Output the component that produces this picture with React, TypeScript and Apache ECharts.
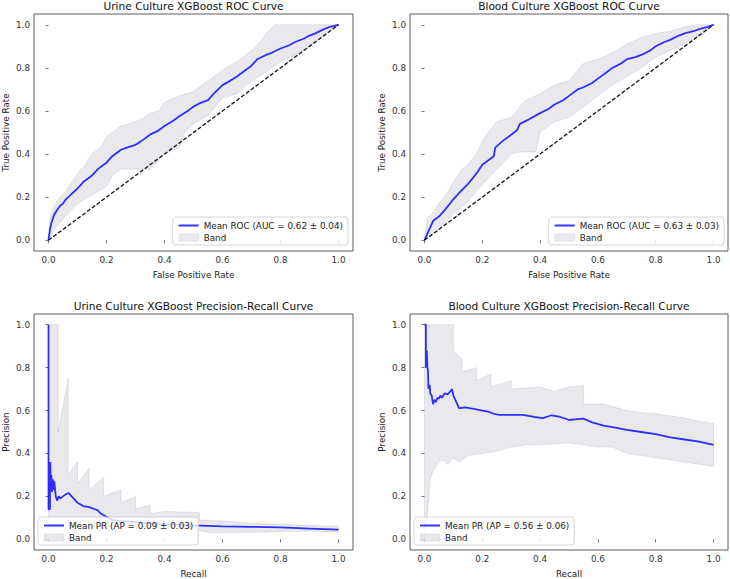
import React, { useEffect, useRef } from "react";
import * as echarts from "echarts";

// ---------- data ----------
const tickValues = [0, 0.2, 0.4, 0.6, 0.8, 1.0];
const titles = [
  "Urine Culture XGBoost ROC Curve",
  "Blood Culture XGBoost ROC Curve",
  "Urine Culture XGBoost Precision-Recall Curve",
  "Blood Culture XGBoost Precision-Recall Curve",
];
const meanNames = [
  "Mean ROC (AUC = 0.62 ± 0.04)",
  "Mean ROC (AUC = 0.63 ± 0.03)",
  "Mean PR (AP = 0.09 ± 0.03)",
  "Mean PR (AP = 0.56 ± 0.06)",
];
const xNames = ["False Positive Rate", "False Positive Rate", "Recall", "Recall"];
const yNames = ["True Positive Rate", "True Positive Rate", "Precision", "Precision"];
const chanceLine = [[0, 0], [1, 1]];

const urineRocMean = [
  [0, 0], [0.005, 0.05], [0.01, 0.08], [0.02, 0.12], [0.03, 0.14], [0.04, 0.16], [0.05, 0.17],
  [0.06, 0.19], [0.08, 0.215], [0.1, 0.24], [0.12, 0.27], [0.15, 0.3], [0.17, 0.33], [0.19, 0.35],
  [0.2, 0.36], [0.22, 0.39], [0.25, 0.42], [0.27, 0.43], [0.3, 0.443], [0.32, 0.46], [0.35, 0.49],
  [0.38, 0.51], [0.4, 0.53], [0.43, 0.555], [0.45, 0.574], [0.48, 0.6], [0.5, 0.62], [0.52, 0.635],
  [0.55, 0.65], [0.57, 0.68], [0.6, 0.72], [0.62, 0.735], [0.65, 0.76], [0.68, 0.79], [0.7, 0.81],
  [0.72, 0.84], [0.75, 0.86], [0.77, 0.87], [0.8, 0.89], [0.83, 0.905], [0.85, 0.92], [0.88, 0.935],
  [0.9, 0.95], [0.92, 0.96], [0.95, 0.98], [0.97, 0.99], [1.0, 1.0],
];
const urineRocUpper = [
  [0, 0], [0.005, 0.1], [0.02, 0.16], [0.04, 0.2], [0.06, 0.23], [0.08, 0.27], [0.1, 0.31],
  [0.12, 0.34], [0.15, 0.4], [0.18, 0.43], [0.2, 0.48], [0.23, 0.51], [0.25, 0.53], [0.3, 0.55],
  [0.33, 0.57], [0.35, 0.59], [0.38, 0.6], [0.4, 0.64], [0.45, 0.67], [0.5, 0.69], [0.53, 0.72],
  [0.55, 0.74], [0.58, 0.77], [0.6, 0.79], [0.65, 0.83], [0.68, 0.86], [0.7, 0.88], [0.73, 0.92],
  [0.75, 0.96], [0.78, 1.0], [1.0, 1.0],
];
const urineRocLower = [
  [0, 0], [0.02, 0.05], [0.05, 0.1], [0.1, 0.17], [0.15, 0.21], [0.2, 0.25], [0.22, 0.3],
  [0.25, 0.33], [0.3, 0.33], [0.35, 0.33], [0.4, 0.4], [0.45, 0.43], [0.47, 0.5], [0.5, 0.54],
  [0.55, 0.58], [0.6, 0.66], [0.65, 0.68], [0.7, 0.74], [0.75, 0.78], [0.8, 0.83], [0.85, 0.86],
  [0.9, 0.9], [0.95, 0.95], [1.0, 1.0],
];

const bloodRocMean = [
  [0, 0], [0.01, 0.03], [0.02, 0.06], [0.03, 0.09], [0.05, 0.11], [0.07, 0.14], [0.1, 0.19],
  [0.12, 0.22], [0.15, 0.26], [0.18, 0.31], [0.2, 0.35], [0.22, 0.37], [0.24, 0.39], [0.245, 0.43],
  [0.27, 0.46], [0.3, 0.49], [0.32, 0.51], [0.33, 0.54], [0.36, 0.56], [0.4, 0.59], [0.43, 0.61],
  [0.45, 0.63], [0.48, 0.65], [0.5, 0.67], [0.53, 0.7], [0.55, 0.71], [0.58, 0.73], [0.6, 0.75],
  [0.63, 0.78], [0.65, 0.8], [0.68, 0.82], [0.7, 0.84], [0.73, 0.85], [0.75, 0.86], [0.78, 0.88],
  [0.8, 0.9], [0.83, 0.92], [0.85, 0.93], [0.88, 0.95], [0.9, 0.96], [0.93, 0.97], [0.95, 0.98],
  [0.98, 0.99], [1.0, 1.0],
];
const bloodRocUpper = [
  [0, 0], [0.01, 0.1], [0.03, 0.13], [0.05, 0.17], [0.08, 0.22], [0.1, 0.27], [0.13, 0.33],
  [0.15, 0.35], [0.18, 0.4], [0.2, 0.46], [0.22, 0.5], [0.25, 0.55], [0.3, 0.57], [0.33, 0.62],
  [0.35, 0.65], [0.4, 0.68], [0.45, 0.72], [0.5, 0.74], [0.55, 0.82], [0.6, 0.84], [0.65, 0.87],
  [0.7, 0.91], [0.75, 0.94], [0.8, 0.96], [0.85, 0.97], [0.9, 0.99], [0.95, 1.0], [1.0, 1.0],
];
const bloodRocLower = [
  [0, 0], [0.03, 0.03], [0.05, 0.05], [0.1, 0.12], [0.15, 0.18], [0.2, 0.26], [0.25, 0.33],
  [0.3, 0.4], [0.33, 0.41], [0.385, 0.41], [0.4, 0.5], [0.45, 0.55], [0.5, 0.57], [0.55, 0.62],
  [0.6, 0.67], [0.65, 0.72], [0.7, 0.76], [0.75, 0.8], [0.8, 0.85], [0.85, 0.88], [0.9, 0.91],
  [0.95, 0.95], [1.0, 1.0],
];

const urinePrMean = [
  [0, 1.0], [0, 0.14], [0.005, 0.14], [0.006, 0.36], [0.008, 0.25], [0.01, 0.3], [0.012, 0.22],
  [0.015, 0.28], [0.018, 0.23], [0.02, 0.27], [0.025, 0.2], [0.03, 0.18], [0.035, 0.2],
  [0.04, 0.19], [0.05, 0.2], [0.06, 0.21], [0.07, 0.215], [0.08, 0.2], [0.09, 0.185], [0.1, 0.17],
  [0.12, 0.155], [0.14, 0.15], [0.15, 0.145], [0.16, 0.14], [0.17, 0.135], [0.18, 0.12],
  [0.2, 0.105], [0.22, 0.09], [0.25, 0.085], [0.3, 0.08], [0.35, 0.075], [0.4, 0.07],
  [0.45, 0.068], [0.5, 0.065], [0.6, 0.06], [0.7, 0.058], [0.8, 0.055], [0.9, 0.05], [1.0, 0.045],
];
const urinePrUpper = [
  [0, 1.0], [0.033, 1.0], [0.033, 0.5], [0.068, 0.75], [0.068, 0.3], [0.1, 0.36], [0.1, 0.26],
  [0.14, 0.33], [0.14, 0.23], [0.19, 0.29], [0.19, 0.2], [0.25, 0.23], [0.25, 0.17], [0.3, 0.2],
  [0.3, 0.14], [0.35, 0.16], [0.35, 0.12], [0.4, 0.13], [0.52, 0.124], [0.52, 0.09],
  [0.6, 0.085], [0.7, 0.075], [0.8, 0.07], [0.9, 0.065], [1.0, 0.06],
];
const urinePrLower = [
  [0, 0.05], [0.1, 0.06], [0.2, 0.06], [0.3, 0.05], [0.4, 0.05], [0.5, 0.045], [0.56, 0.03],
  [0.7, 0.033], [0.8, 0.035], [0.9, 0.038], [1.0, 0.034],
];

const bloodPrMean = [
  [0, 1.0], [0.005, 1.0], [0.005, 0.8], [0.008, 0.88], [0.01, 0.8], [0.012, 0.79], [0.014, 0.7],
  [0.018, 0.72], [0.02, 0.68], [0.025, 0.67], [0.03, 0.63], [0.035, 0.65], [0.04, 0.64],
  [0.045, 0.66], [0.05, 0.655], [0.055, 0.67], [0.06, 0.66], [0.07, 0.68], [0.08, 0.675],
  [0.09, 0.69], [0.095, 0.7], [0.1, 0.67], [0.11, 0.64], [0.12, 0.61], [0.14, 0.615],
  [0.16, 0.61], [0.18, 0.605], [0.2, 0.6], [0.22, 0.595], [0.24, 0.585], [0.26, 0.58],
  [0.3, 0.58], [0.34, 0.58], [0.38, 0.57], [0.41, 0.565], [0.44, 0.578], [0.47, 0.57],
  [0.5, 0.556], [0.53, 0.56], [0.55, 0.562], [0.58, 0.545], [0.62, 0.53], [0.66, 0.52],
  [0.7, 0.51], [0.75, 0.5], [0.8, 0.49], [0.85, 0.475], [0.9, 0.465], [0.95, 0.455], [1.0, 0.44],
];
const bloodPrUpper = [
  [0, 1.0], [0.1, 1.0], [0.1, 0.88], [0.13, 0.84], [0.13, 0.78], [0.18, 0.8], [0.18, 0.74],
  [0.23, 0.77], [0.23, 0.71], [0.3, 0.74], [0.3, 0.7], [0.4, 0.71], [0.45, 0.69], [0.5, 0.71],
  [0.55, 0.715], [0.55, 0.63], [0.62, 0.63], [0.7, 0.6], [0.75, 0.59], [0.8, 0.585],
  [0.85, 0.575], [0.9, 0.565], [0.95, 0.55], [1.0, 0.54],
];
const bloodPrLower = [
  [0, 0], [0.003, 0.05], [0.01, 0.1], [0.015, 0.2], [0.02, 0.28], [0.03, 0.32], [0.05, 0.36],
  [0.07, 0.37], [0.08, 0.35], [0.1, 0.38], [0.12, 0.36], [0.15, 0.39], [0.2, 0.4], [0.25, 0.41],
  [0.3, 0.43], [0.35, 0.44], [0.4, 0.44], [0.5, 0.45], [0.55, 0.44], [0.6, 0.43], [0.65, 0.43],
  [0.7, 0.4], [0.75, 0.39], [0.8, 0.38], [0.85, 0.37], [0.9, 0.36], [0.95, 0.35], [1.0, 0.34],
];

const means = [urineRocMean, bloodRocMean, urinePrMean, bloodPrMean];
const uppers = [urineRocUpper, bloodRocUpper, urinePrUpper, bloodPrUpper];
const lowers = [urineRocLower, bloodRocLower, urinePrLower, bloodPrLower];

// ---------- styling / layout ----------
const FONT = "DejaVu Sans";
const BAND = "rgba(120,120,150,0.17)";
const BAND_EDGE = "rgba(120,120,160,0.22)";
const MEAN = "rgba(0,0,255,0.8)";
const LABEL_FS = 8.8;
const grids = [
  { left: 34, top: 14, width: 319, height: 237 },
  { left: 410, top: 14, width: 318, height: 237 },
  { left: 34, top: 314, width: 319, height: 237 },
  { left: 410, top: 314, width: 318, height: 237 },
];
const legendPos: any[] = [
  { right: 382, top: 217 },
  { right: 6, top: 217 },
  { left: 38, top: 517 },
  { left: 414, top: 517 },
];

export default function App() {
  const ref = useRef<HTMLDivElement>(null);
  useEffect(() => {
    if (!ref.current) return;
    const chart = echarts.init(ref.current, null, { renderer: "svg" });
    const fmt = (v: number) => v.toFixed(1);

    const series: any[] = [];
    for (let i = 0; i < 4; i++) {
      const hi = uppers[i];
      const lo = lowers[i];
      series.push({
        type: "custom",
        name: "Band",
        xAxisIndex: i,
        yAxisIndex: i,
        silent: true,
        z: 1,
        itemStyle: { color: BAND },
        data: [[0, 0]],
        renderItem: (_p: any, api: any) => {
          const pts: number[][] = [];
          for (const p of hi) pts.push(api.coord(p));
          for (let k = lo.length - 1; k >= 0; k--) pts.push(api.coord(lo[k]));
          return {
            type: "polygon",
            shape: { points: pts },
            style: { fill: BAND, stroke: BAND_EDGE, lineWidth: 0.8 },
          };
        },
      });
      if (i < 2) {
        series.push({
          type: "line",
          name: "chance" + i,
          xAxisIndex: i,
          yAxisIndex: i,
          data: chanceLine,
          symbol: "none",
          silent: true,
          z: 2,
          lineStyle: { color: "#111", width: 1.3, type: [4, 2] },
        });
      }
      series.push({
        type: "line",
        name: meanNames[i],
        xAxisIndex: i,
        yAxisIndex: i,
        data: means[i],
        symbol: "none",
        silent: true,
        z: 3,
        lineStyle: { color: MEAN, width: 1.8 },
        itemStyle: { color: MEAN },
      });
    }

    const option: any = {
      animation: false,
      backgroundColor: "#fff",
      title: grids.map((g, i) => ({
        text: titles[i],
        left: g.left + g.width / 2,
        top: g.top - 14,
        textAlign: "center",
        padding: 0,
        textStyle: { fontFamily: FONT, fontSize: 10.6, fontWeight: "normal", color: "#111" },
      })),
      grid: grids.map((g) => ({
        ...g,
        show: true,
        borderColor: "#333",
        borderWidth: 0.8,
        backgroundColor: "transparent",
        containLabel: false,
      })),
      legend: legendPos.map((p, i) => ({
        ...p,
        orient: "vertical",
        padding: [4, 5, 3, 5],
        itemGap: 3,
        itemWidth: 20,
        itemHeight: 7,
        backgroundColor: "rgba(255,255,255,0.8)",
        borderColor: "#cccccc",
        borderWidth: 0.8,
        borderRadius: 3,
        selectedMode: false,
        textStyle: { fontFamily: FONT, fontSize: LABEL_FS, color: "#222" },
        data: [
          { name: meanNames[i], itemStyle: { opacity: 0 } },
          { name: "Band", icon: "rect", itemStyle: { color: BAND, borderColor: BAND_EDGE, borderWidth: 0.5 } },
        ],
      })),
      xAxis: grids.map((_g, i) => ({
        type: "value",
        gridIndex: i,
        min: -0.05,
        max: 1.05,
        name: xNames[i],
        nameLocation: "middle",
        nameGap: 19,
        nameTextStyle: { fontFamily: FONT, fontSize: LABEL_FS, color: "#222" },
        axisLine: { show: false },
        splitLine: { show: false },
        axisTick: { show: true, length: 3, customValues: tickValues, lineStyle: { color: "#333", width: 0.7 } },
        axisLabel: { customValues: tickValues, formatter: fmt, fontFamily: FONT, fontSize: LABEL_FS, color: "#333", margin: 4 },
      })),
      yAxis: grids.map((_g, i) => ({
        type: "value",
        gridIndex: i,
        min: -0.05,
        max: 1.05,
        name: yNames[i],
        nameLocation: "middle",
        nameGap: 24,
        nameTextStyle: { fontFamily: FONT, fontSize: LABEL_FS, color: "#222" },
        axisLine: { show: false },
        splitLine: { show: false },
        axisTick: { show: true, length: 3, customValues: tickValues, lineStyle: { color: "#333", width: 0.7 } },
        axisLabel: { customValues: tickValues, formatter: fmt, fontFamily: FONT, fontSize: LABEL_FS, color: "#333", margin: 4 },
      })),
      series,
    };
    chart.setOption(option);
    return () => chart.dispose();
  }, []);
  return (
    <div
      ref={ref}
      style={{ position: "fixed", left: 0, top: 0, width: 730, height: 579, background: "#fff" }}
    />
  );
}
